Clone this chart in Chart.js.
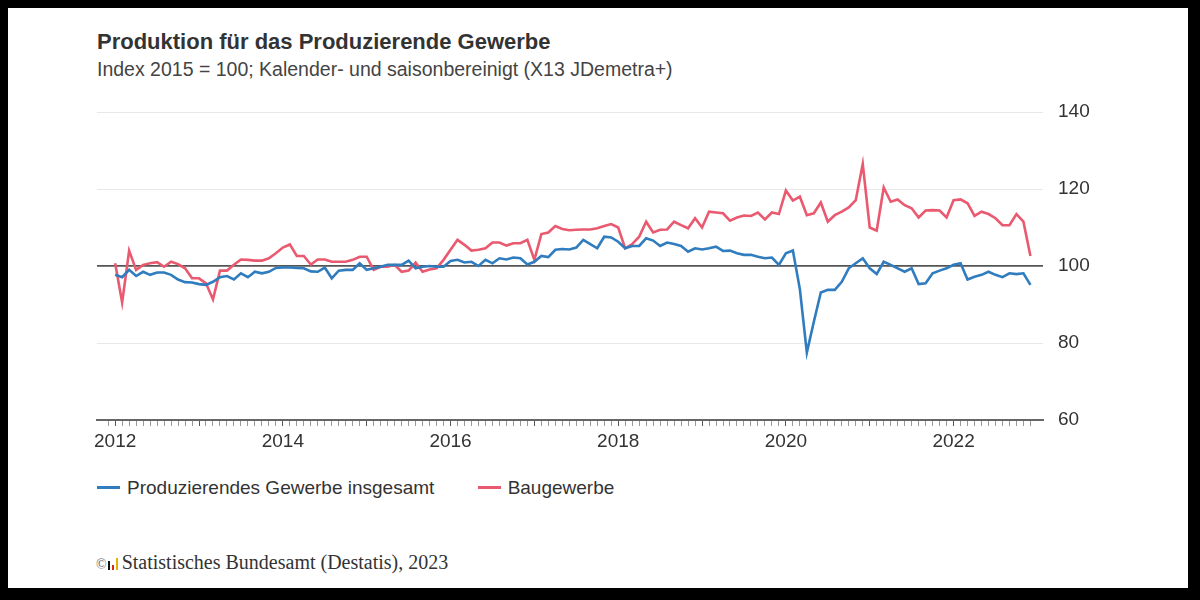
<!DOCTYPE html>
<html lang="de">
<head>
<meta charset="utf-8">
<title>Produktion für das Produzierende Gewerbe</title>
<script src="https://cdn.jsdelivr.net/npm/chart.js@4.4.1/dist/chart.umd.min.js"></script>
<style>
html, body { margin: 0; padding: 0; background: #000; }
body { width: 1200px; height: 600px; position: relative; overflow: hidden; font-family: "Liberation Sans", Arial, sans-serif; }
#panel { position: absolute; left: 8px; top: 8px; width: 1180px; height: 580px; background: #fff; }
#chartBox { position: absolute; left: 0; top: 0; width: 1200px; height: 460px; }
.title { position: absolute; left: 97px; top: 29px; margin: 0; font-size: 22px; font-weight: bold; color: #333; line-height: 26px; white-space: nowrap; }
.sub { position: absolute; left: 97px; top: 57px; font-size: 19.5px; color: #444; line-height: 24px; white-space: nowrap; }
.legend { position: absolute; top: 476px; left: 97px; font-size: 19px; color: #333; line-height: 24px; white-space: nowrap; }
.legend span.item { display: inline-block; margin-right: 38px; }
.legend i { display: inline-block; width: 23px; height: 3px; vertical-align: middle; margin-right: 7px; position: relative; top: -1px; }
.source { position: absolute; left: 96px; top: 550px; font-family: "Liberation Serif", "DejaVu Serif", serif; font-size: 20px; color: #333; line-height: 24px; white-space: nowrap; }
.source .c { font-size: 14px; color: #666; }
.logo { display: inline-block; width: 11px; height: 13px; position: relative; margin: 0 3px 0 1px; vertical-align: -1px; }
.logo b { position: absolute; bottom: 0; width: 2px; }
</style>
</head>
<body>
<div id="panel"></div>
<div class="title">Produktion für das Produzierende Gewerbe</div>
<div class="sub">Index 2015 = 100; Kalender- und saisonbereinigt (X13 JDemetra+)</div>
<div id="chartBox"><canvas id="myChart" width="1200" height="460"></canvas></div>
<div class="legend">
  <span class="item"><i style="background:#2f7cbf"></i>Produzierendes Gewerbe insgesamt</span>
  <span class="item"><i style="background:#e9596f"></i>Baugewerbe</span>
</div>
<div class="source"><span class="c">©</span><span class="logo"><b style="left:0;height:9px;background:#111"></b><b style="left:4px;height:5px;background:#d52b1e"></b><b style="left:8px;height:12px;background:#e8b100"></b></span>Statistisches Bundesamt (Destatis), 2023</div>
<script>
// Monatswerte Jan 2012 - Dez 2022, Index 2015 = 100
const startYear = 2012;

const produzierendes = [
  97.7, 97.1, 99.0, 97.4, 98.5, 97.7, 98.3, 98.3, 97.7, 96.5, 95.8, 95.7,
  95.3, 95.1, 95.9, 97.1, 97.4, 96.5, 98.1, 97.1, 98.5, 98.1, 98.5, 99.5,
  99.6, 99.6, 99.5, 99.4, 98.6, 98.5, 99.6, 96.8, 98.8, 99.0, 99.0, 100.7,
  99.0, 99.4, 99.8, 100.3, 100.3, 100.3, 101.4, 99.4, 99.8, 100.0, 99.8, 99.8,
  101.3, 101.6, 100.9, 101.1, 100.0, 101.6, 100.7, 102.0, 101.7, 102.2, 102.0, 100.4,
  101.1, 102.6, 102.3, 104.2, 104.4, 104.3, 104.8, 106.8, 105.7, 104.6, 107.6, 107.4,
  106.3, 104.6, 105.2, 105.2, 107.2, 106.6, 105.2, 106.1, 105.7, 105.2, 103.7, 104.6,
  104.3, 104.6, 105.0, 103.9, 104.0, 103.3, 102.9, 102.9, 102.4, 102.0, 102.2, 100.3,
  103.3, 104.0, 94.0, 77.5, 85.5, 93.1, 93.8, 93.8, 95.9, 99.4, 100.7, 102.0,
  99.4, 97.9, 101.1, 100.3, 99.4, 98.5, 99.4, 95.3, 95.5, 98.1, 98.8, 99.4,
  100.3, 100.7, 96.5, 97.2, 97.7, 98.5, 97.7, 97.1, 98.1, 97.9, 98.1, 95.1
];

const baugewerbe = [
  100.7, 90.5, 104.0, 99.0, 100.3, 100.7, 101.0, 99.8, 101.1, 100.5, 99.4, 96.8,
  96.8, 95.5, 91.3, 98.8, 98.8, 100.3, 101.7, 101.6, 101.4, 101.4, 102.0, 103.3,
  104.8, 105.6, 102.6, 102.6, 100.4, 101.7, 101.7, 101.1, 101.1, 101.1, 101.6, 102.4,
  102.4, 99.0, 99.8, 99.8, 100.3, 98.5, 98.8, 100.9, 98.5, 99.1, 99.4, 101.6,
  104.2, 106.8, 105.5, 104.0, 104.2, 104.6, 106.1, 106.1, 105.3, 105.9, 105.9, 106.8,
  101.6, 108.3, 108.7, 110.4, 109.6, 109.3, 109.4, 109.5, 109.5, 109.8, 110.4, 110.9,
  110.0, 104.6, 105.7, 107.6, 111.5, 108.7, 109.4, 109.5, 111.5, 110.6, 109.8, 112.4,
  110.0, 114.1, 113.9, 113.7, 111.8, 112.6, 113.1, 113.0, 113.9, 112.1, 113.9, 113.5,
  119.6, 117.0, 118.0, 113.2, 113.7, 116.5, 111.5, 113.2, 114.1, 115.2, 117.1, 126.5,
  110.0, 109.2, 120.4, 116.7, 117.3, 115.8, 115.0, 112.6, 114.4, 114.5, 114.4, 112.6,
  117.1, 117.3, 116.3, 113.0, 114.1, 113.5, 112.4, 110.6, 110.6, 113.5, 111.5, 102.6
];

const yTicks = [60, 80, 100, 120, 140];

function toPoints(arr) {
  return arr.map(function(v, i) { return { x: i, y: v }; });
}

const ctx = document.getElementById('myChart').getContext('2d');
const myChart = new Chart(ctx, {
  type: 'line',
  data: {
    datasets: [{
      label: 'Produzierendes Gewerbe insgesamt',
      data: toPoints(produzierendes),
      borderColor: '#2f7cbf',
      borderWidth: 2.6,
      pointRadius: 0,
      tension: 0
    }, {
      label: 'Baugewerbe',
      data: toPoints(baugewerbe),
      borderColor: '#e9596f',
      borderWidth: 2.6,
      pointRadius: 0,
      tension: 0
    }]
  },
  options: {
    responsive: false,
    animation: false,
    layout: { padding: { left: 97, top: 112, right: 97, bottom: 0 } },
    plugins: {
      legend: { display: false },
      tooltip: { enabled: false }
    },
    scales: {
      x: {
        type: 'linear',
        min: -2.6,
        max: 132.8,
        afterBuildTicks: function(s) {
          s.ticks = s.ticks.filter(function(t) { return Number.isInteger(t.value); });
        },
        afterFit: function(s) { s.height = 40; },
        ticks: {
          stepSize: 1,
          autoSkip: false,
          maxRotation: 0,
          padding: 4,
          color: '#333',
          font: { family: 'Liberation Sans', size: 19 },
          callback: function(v) {
            return v % 24 === 0 ? String(startYear + v / 12) : '';
          }
        },
        grid: {
          drawOnChartArea: false,
          drawTicks: true,
          tickLength: 6,
          tickColor: function(c) {
            return c.tick && c.tick.value % 12 === 0 ? '#555' : '#999';
          }
        },
        border: { display: true, color: '#666', width: 2 }
      },
      y: {
        position: 'right',
        min: 60,
        max: 140,
        afterBuildTicks: function(s) {
          s.ticks = yTicks.map(function(v) { return { value: v }; });
        },
        afterFit: function(s) { s.width = 60; },
        ticks: {
          padding: 15,
          color: '#333',
          font: { family: 'Liberation Sans', size: 19 }
        },
        grid: {
          drawTicks: false,
          color: function(c) {
            if (c.tick.value === 100) return '#555';
            if (c.tick.value === 60) return 'rgba(0,0,0,0)';
            return '#e8e8e8';
          },
          lineWidth: function(c) { return c.tick.value === 100 ? 1.8 : 1; }
        },
        border: { display: false }
      }
    }
  }
});
</script>
</body>
</html>
